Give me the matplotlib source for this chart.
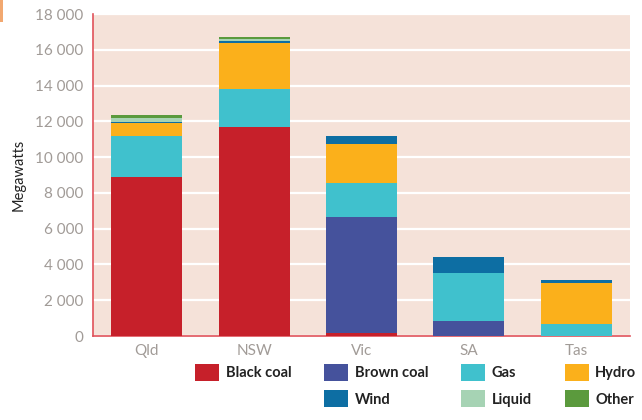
import matplotlib
matplotlib.use("Agg")
import matplotlib.pyplot as plt
from matplotlib.patches import Patch, Rectangle
from matplotlib.ticker import FuncFormatter
import numpy as np

plt.rcParams['font.family'] = ['Lato', 'DejaVu Sans']

states = ["Qld", "NSW", "Vic", "SA", "Tas"]

# Installed generation capacity by fuel type (MW)
black_coal = [8880, 11680, 150, 0, 0]
brown_coal = [0, 0, 6500, 840, 0]
gas = [2290, 2120, 1900, 2680, 670]
hydro = [730, 2570, 2180, 0, 2290]
wind = [40, 110, 440, 890, 170]
liquid = [220, 100, 0, 0, 0]
other = [190, 120, 0, 0, 0]

series = [
    ("Black coal", black_coal, "#c6202a"),
    ("Brown coal", brown_coal, "#45529c"),
    ("Gas", gas, "#40c1cd"),
    ("Hydro", hydro, "#fbb01b"),
    ("Wind", wind, "#0d6ea3"),
    ("Liquid", liquid, "#a6d3b4"),
    ("Other", other, "#5b9a3d"),
]

y_ticks = [0, 2000, 4000, 6000, 8000, 10000, 12000, 14000, 16000, 18000]

fig = plt.figure(figsize=(6.42, 4.20), dpi=100)
fig.patch.set_facecolor("white")

ax = fig.add_axes([93 / 642, 1 - 336 / 420, (630 - 93) / 642, (336 - 14) / 420])
ax.set_facecolor("#f5e2d9")

x = np.arange(len(states))
bottom = np.zeros(len(states))
for name, vals, color in series:
    v = np.array(vals, dtype=float)
    ax.bar(x, v, bottom=bottom, width=0.66, color=color, zorder=3, linewidth=0)
    bottom += v

ax.set_xlim(-0.5, len(states) - 0.5)
ax.set_ylim(0, 18000)
ax.set_yticks(y_ticks)
ax.yaxis.set_major_formatter(FuncFormatter(
    lambda v, p: f"{int(v):,}".replace(",", " ")))
ax.set_xticks(x)
ax.set_xticklabels(states)

ax.grid(axis="y", color="white", linewidth=1.6, zorder=1)
ax.set_axisbelow(True)
ax.tick_params(axis="both", length=0, colors="#a19b97", labelsize=11)
ax.tick_params(axis="y", pad=7)
ax.tick_params(axis="x", pad=6)

for s in ["top", "right"]:
    ax.spines[s].set_visible(False)
for s in ["left", "bottom"]:
    ax.spines[s].set_color("#e0525a")
    ax.spines[s].set_linewidth(1.2)

ax.set_ylabel("Megawatts", fontsize=10.5, color="#222222", labelpad=7)

# Legend: blank slot keeps "Black coal" alone in its column
handles = []
labels = []
order = [0, None, 1, 4, 2, 5, 3, 6]
for i in order:
    if i is None:
        handles.append(Patch(facecolor="none", edgecolor="none"))
        labels.append("")
    else:
        handles.append(Patch(facecolor=series[i][2], edgecolor="none"))
        labels.append(series[i][0])

leg = fig.legend(handles, labels, ncol=4, loc="upper left",
                 bbox_to_anchor=(195 / 642, 1 - 364 / 420),
                 frameon=False, fontsize=10.5, handlelength=1.65,
                 handleheight=1.45, handletextpad=0.45, labelspacing=0.6,
                 columnspacing=2.25, borderpad=0, borderaxespad=0)
for t in leg.get_texts():
    t.set_fontweight("bold")
    t.set_color("#222222")

# Thin accent strip at the top-left edge
fig.add_artist(Rectangle((0, 1 - 22 / 420), 3 / 642, 22 / 420,
                         transform=fig.transFigure, facecolor="#f2a870",
                         edgecolor="none"))

fig.savefig("out.png", dpi=100)
